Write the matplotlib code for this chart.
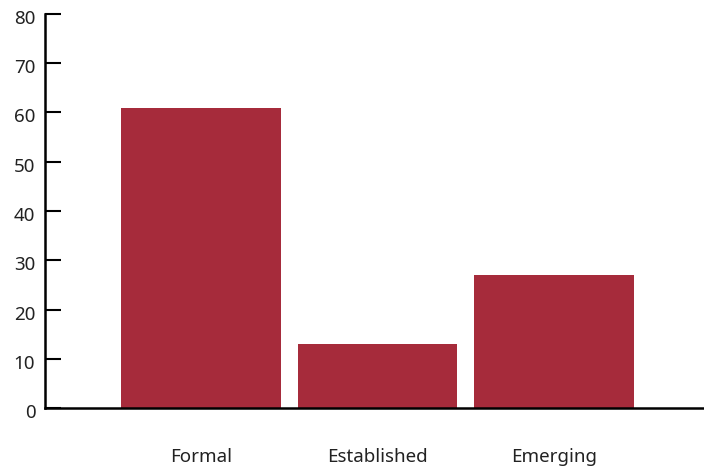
import matplotlib.pyplot as plt
from matplotlib.transforms import ScaledTranslation

categories = ['Formal', 'Established', 'Emerging']
values = [61, 13, 27]
yticks = [0, 10, 20, 30, 40, 50, 60, 70, 80]

plt.rcParams['font.family'] = ['Noto Sans', 'DejaVu Sans']

fig = plt.figure(figsize=(7.04, 4.68), dpi=100)
ax = fig.add_axes([45 / 704, 1 - 408 / 468, 1 - 45 / 704, (408 - 14) / 468])

x = list(range(len(categories)))
ax.bar(x, values, width=0.906, color='#a62b3b')

ax.set_ylim(0, 80)
ax.set_xlim(-0.884, 2.85)
ax.set_yticks(yticks)
ax.set_xticks(x)
ax.set_xticklabels(categories)

for side in ['top', 'right']:
    ax.spines[side].set_visible(False)
for side in ['left', 'bottom']:
    ax.spines[side].set_linewidth(1.8)
    ax.spines[side].set_color('black')

ax.tick_params(axis='y', direction='in', length=11.5, width=1.5, labelsize=13.5,
               pad=7, labelcolor='#222222')
ax.tick_params(axis='x', length=0, labelsize=13.5, pad=28.5, labelcolor='#222222')

offset = ScaledTranslation(0, -3 / 100, fig.dpi_scale_trans)
for lbl in ax.get_yticklabels():
    lbl.set_transform(lbl.get_transform() + offset)

fig.savefig('out.png', dpi=100)
